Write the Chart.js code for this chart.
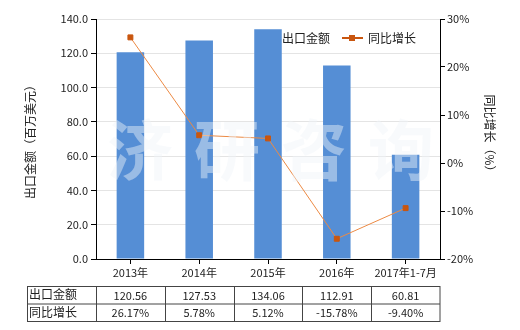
<!DOCTYPE html>
<html>
<head>
<meta charset="utf-8">
<script src="https://cdn.jsdelivr.net/npm/chart.js@4/dist/chart.umd.min.js"></script>
<style>
  html, body { margin: 0; padding: 0; background: #fff; }
</style>
</head>
<body>
<canvas id="chart" width="520" height="330"></canvas>
<script>
// data -----------------------------------------------------------
const categories   = ["2013年", "2014年", "2015年", "2016年", "2017年1-7月"];
const exportValues = [120.56, 127.53, 134.06, 112.91, 60.81];
const growthValues = [26.17, 5.78, 5.12, -15.78, -9.40];
const exportText   = ["120.56", "127.53", "134.06", "112.91", "60.81"];
const growthText   = ["26.17%", "5.78%", "5.12%", "-15.78%", "-9.40%"];
const rowNames     = ["出口金额", "同比增长"];

const FONT = "'Noto Sans CJK SC', 'Noto Sans', sans-serif";
const BLUE = "#558ed5";
const ORANGE_LINE = "#ec8a44";
const ORANGE_PT = "#c9560f";

Chart.defaults.font.family = FONT;
Chart.defaults.font.size = 11;
Chart.defaults.color = "#222";

// titles, legend, data table, watermark -------------------------
const extras = {
  id: "extras",
  afterDraw(chart) {
    const ctx = chart.ctx;
    const area = chart.chartArea;
    const x = chart.scales.x;
    const midY = (area.top + area.bottom) / 2;

    // watermark
    ctx.save();
    ctx.font = "bold 66px 'Noto Sans CJK SC'";
    ctx.fillStyle = "rgba(240,245,248,0.45)";
    ctx.textBaseline = "middle";
    ctx.textAlign = "center";
    const wm = ["济", "研", "咨", "询"];
    wm.forEach((ch, i) => ctx.fillText(ch, 140 + i * 87, 150));
    ctx.restore();

    ctx.save();
    ctx.font = "12px " + FONT;
    ctx.fillStyle = "#222";
    ctx.textAlign = "center";
    ctx.textBaseline = "middle";
    // left axis title
    ctx.translate(30, midY);
    ctx.rotate(-Math.PI / 2);
    ctx.fillText("出口金额（百万美元）", 0, 0);
    ctx.restore();

    ctx.save();
    ctx.font = "12px " + FONT;
    ctx.fillStyle = "#222";
    ctx.textAlign = "center";
    ctx.textBaseline = "middle";
    ctx.translate(490, midY - 3);
    ctx.rotate(Math.PI / 2);
    ctx.fillText("同比增长（%）", 0, 0);
    ctx.restore();

    // legend
    ctx.save();
    ctx.font = "12px " + FONT;
    ctx.textBaseline = "middle";
    ctx.fillStyle = BLUE;
    ctx.fillRect(268, 33, 11, 11);
    ctx.fillStyle = "#222";
    ctx.fillText("出口金额", 282, 38);
    ctx.strokeStyle = ORANGE_PT;
    ctx.lineWidth = 2;
    ctx.beginPath();
    ctx.moveTo(342, 38);
    ctx.lineTo(363, 38);
    ctx.stroke();
    ctx.fillRect(349, 35, 6, 6);
    ctx.fillStyle = ORANGE_PT;
    ctx.fillRect(349, 35, 6, 6);
    ctx.fillStyle = "#222";
    ctx.fillText("同比增长", 368, 38);
    ctx.restore();

    // data table
    const rowTop = [286, 303.5];
    const rowH = 17.5;
    const colW = (area.right - area.left) / categories.length;
    ctx.save();
    ctx.strokeStyle = "#444";
    ctx.lineWidth = 1;
    ctx.strokeRect(27.5, rowTop[0] + 0.5, area.right - 27.5, rowH * 2);
    ctx.beginPath();
    ctx.moveTo(27.5, rowTop[1] + 0.5);
    ctx.lineTo(area.right, rowTop[1] + 0.5);
    for (let i = 0; i < categories.length; i++) {
      const cx = Math.round(area.left + i * colW) + 0.5;
      ctx.moveTo(cx, rowTop[0]);
      ctx.lineTo(cx, rowTop[0] + rowH * 2);
    }
    ctx.stroke();

    ctx.font = "12px " + FONT;
    ctx.fillStyle = "#222";
    ctx.textBaseline = "middle";
    ctx.textAlign = "left";
    rowNames.forEach((n, r) => ctx.fillText(n, 29, rowTop[r] + rowH / 2));
    ctx.textAlign = "center";
    ctx.font = "11px " + FONT;
    categories.forEach((c, i) => {
      const cx = x.getPixelForValue(i);
      ctx.fillText(exportText[i], cx, rowTop[0] + rowH / 2 + 1);
      ctx.fillText(growthText[i], cx, rowTop[1] + rowH / 2 + 1);
    });
    ctx.restore();
  }
};

// chart ----------------------------------------------------------
new Chart(document.getElementById("chart"), {
  data: {
    labels: categories,
    datasets: [
      {
        type: "line",
        label: "同比增长",
        data: growthValues,
        yAxisID: "y1",
        borderColor: ORANGE_LINE,
        borderWidth: 1,
        pointStyle: "rect",
        pointRadius: 3.5,
        pointBackgroundColor: ORANGE_PT,
        pointBorderColor: ORANGE_PT,
        tension: 0,
        order: 0
      },
      {
        type: "bar",
        label: "出口金额",
        data: exportValues,
        yAxisID: "y",
        backgroundColor: BLUE,
        barPercentage: 0.4,
        categoryPercentage: 1,
        order: 1
      }
    ]
  },
  options: {
    responsive: false,
    animation: false,
    devicePixelRatio: 1,
    layout: { padding: { top: 19, left: 0, right: 0, bottom: 0 } },
    plugins: { legend: { display: false }, tooltip: { enabled: false } },
    scales: {
      x: {
        grid: { drawOnChartArea: false, offset: false, tickLength: 5, tickColor: "#000" },
        border: { color: "#000" },
        ticks: { padding: 2, maxRotation: 0, font: { size: 11 } },
        afterFit: s => { s.height = 71; }
      },
      y: {
        position: "left",
        min: 0, max: 140,
        ticks: { stepSize: 20, padding: 3, callback: v => v.toFixed(1) },
        grid: { color: "#e4e4e4", tickLength: 5, tickColor: "#000" },
        border: { color: "#000" },
        afterFit: s => { s.width = 96; }
      },
      y1: {
        position: "right",
        min: -20, max: 30,
        ticks: { stepSize: 10, padding: 2, callback: v => v + "%" },
        grid: { drawOnChartArea: false, tickLength: 5, tickColor: "#000" },
        border: { color: "#000" },
        afterFit: s => { s.width = 80; }
      }
    }
  },
  plugins: [extras]
});
</script>
</body>
</html>
